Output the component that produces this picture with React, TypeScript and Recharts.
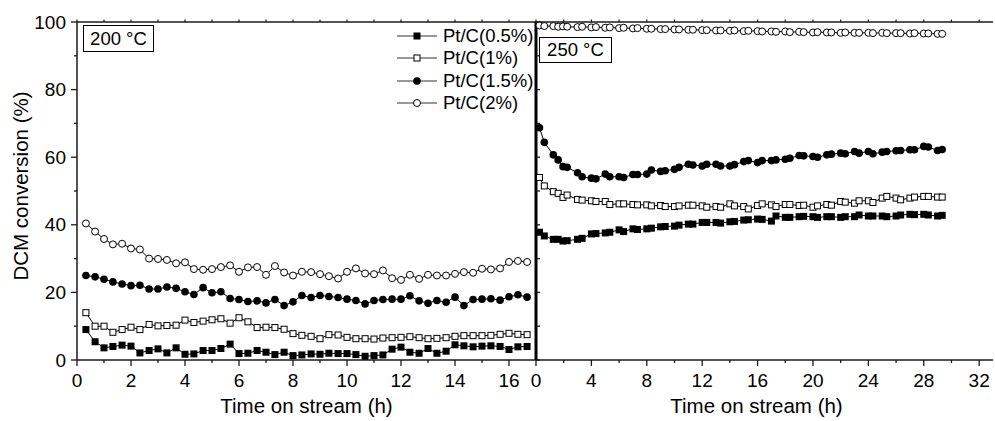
import React from 'react';
import { LineChart, Line, XAxis, YAxis } from 'recharts';

const FONT = '"Liberation Sans", Arial, Helvetica, sans-serif';
const AX = '#1a1a1a';
const TICK_FS = 19;
const TITLE_FS = 20.5;

// ---------- 200 °C panel ----------
const leftTimes = [0.33, 0.67, 1, 1.33, 1.67, 2, 2.33, 2.67, 3, 3.33, 3.67, 4, 4.33, 4.67, 5, 5.33, 5.67, 6, 6.33, 6.67, 7, 7.33, 7.67, 8, 8.33, 8.67, 9, 9.33, 9.67, 10, 10.33, 10.67, 11, 11.33, 11.67, 12, 12.33, 12.67, 13, 13.33, 13.67, 14, 14.33, 14.67, 15, 15.33, 15.67, 16, 16.33, 16.67];
const left05 = [9.0, 5.4, 3.6, 4.0, 4.4, 4.1, 2.1, 2.8, 3.3, 2.1, 3.6, 1.7, 1.8, 2.8, 2.8, 3.4, 4.7, 1.9, 2.0, 2.8, 2.3, 1.6, 2.3, 1.3, 1.5, 1.8, 1.7, 2.0, 1.9, 1.9, 1.6, 1.1, 1.3, 1.5, 3.2, 3.8, 2.3, 2.0, 3.4, 2.0, 2.6, 4.5, 4.2, 3.9, 4.1, 4.2, 4.0, 3.1, 3.9, 4.0];
const left1 = [14.0, 10.0, 10.0, 8.2, 9.0, 9.7, 9.0, 10.5, 10.1, 10.2, 10.3, 11.8, 11.1, 11.5, 11.9, 12.2, 10.9, 12.5, 11.3, 9.6, 9.7, 9.6, 9.1, 7.8, 7.3, 7.0, 6.3, 7.5, 7.4, 6.7, 6.3, 6.3, 6.2, 6.5, 6.6, 6.7, 6.9, 6.6, 6.3, 6.4, 6.6, 7.0, 7.2, 7.2, 7.2, 7.3, 7.6, 7.9, 7.6, 7.5];
const left15 = [25.0, 24.6, 23.9, 23.1, 22.5, 22.0, 22.1, 21.0, 21.0, 21.6, 21.2, 20.2, 19.4, 21.4, 19.9, 20.2, 18.2, 17.9, 17.3, 17.5, 16.9, 17.9, 16.1, 17.2, 19.1, 18.5, 19.1, 18.8, 18.5, 18.0, 17.6, 16.6, 17.6, 17.9, 18.0, 18.0, 19.0, 17.5, 16.8, 17.6, 17.1, 18.6, 16.1, 17.9, 18.0, 18.1, 17.7, 18.7, 19.3, 18.6];
const left2 = [40.4, 38.0, 35.8, 34.2, 34.4, 33.0, 32.7, 30.0, 29.9, 29.6, 28.6, 28.9, 26.9, 26.7, 26.9, 27.5, 28.0, 26.1, 27.4, 27.5, 25.2, 27.8, 25.9, 25.0, 26.1, 26.0, 25.4, 24.8, 24.1, 26.1, 27.1, 25.6, 25.4, 26.5, 24.2, 23.7, 25.2, 24.0, 25.2, 25.0, 25.0, 25.5, 26.0, 25.8, 27.0, 26.8, 27.1, 29.0, 29.3, 29.0];

// ---------- 250 °C panel ----------
const rightTimes = [0.25, 0.6, 1.25, 1.6, 1.95, 2.25, 3, 3.33, 4, 4.33, 5, 5.33, 6, 6.33, 7, 7.33, 8, 8.33, 9, 9.33, 10, 10.33, 11, 11.33, 12, 12.33, 13, 13.33, 14, 14.33, 15, 15.33, 16, 16.33, 17, 17.33, 18, 18.33, 19, 19.33, 20, 20.33, 21, 21.33, 22, 22.33, 23, 23.33, 24, 24.33, 25, 25.33, 26, 26.33, 27, 27.33, 28, 28.33, 29, 29.33];
const right05 = [37.8, 36.7, 35.7, 35.7, 35.2, 35.3, 35.7, 36.0, 37.3, 37.4, 37.6, 37.8, 38.5, 38.0, 38.8, 38.6, 38.8, 39.0, 39.4, 39.5, 39.6, 39.9, 40.2, 40.2, 40.7, 40.7, 40.7, 40.5, 40.9, 41.0, 41.4, 41.5, 41.7, 41.6, 41.1, 42.6, 42.2, 42.2, 42.4, 42.5, 42.4, 42.2, 42.4, 42.4, 42.2, 42.4, 42.4, 42.9, 42.6, 42.6, 42.6, 42.4, 42.6, 42.9, 43.1, 43.0, 43.1, 42.9, 42.6, 42.8];
const right1 = [54.0, 51.5, 49.8, 49.3, 48.1, 48.8, 47.5, 47.3, 47.1, 46.9, 46.9, 46.0, 46.2, 46.2, 46.0, 45.9, 45.9, 45.6, 45.7, 45.4, 45.4, 45.6, 45.8, 45.8, 45.6, 45.2, 45.4, 45.2, 46.2, 45.6, 45.4, 44.7, 45.7, 46.2, 45.9, 45.4, 46.0, 46.0, 45.7, 45.8, 45.2, 45.6, 46.0, 45.8, 46.9, 46.7, 46.4, 47.1, 47.1, 46.6, 47.9, 48.4, 47.9, 47.4, 47.9, 48.2, 48.4, 48.4, 48.2, 48.2];
const right15 = [68.7, 64.4, 60.7, 59.2, 57.2, 57.0, 55.4, 54.2, 53.8, 53.6, 55.0, 54.2, 54.2, 54.0, 54.9, 54.9, 55.0, 56.2, 55.8, 56.0, 56.4, 57.0, 57.9, 57.7, 57.4, 57.9, 57.9, 57.4, 57.4, 57.8, 58.7, 59.0, 58.4, 59.0, 59.0, 59.2, 59.4, 59.7, 60.5, 60.4, 60.2, 60.0, 60.7, 60.9, 61.2, 61.0, 61.7, 61.2, 61.7, 61.0, 61.5, 61.7, 61.9, 62.0, 62.2, 62.2, 63.2, 63.0, 62.0, 62.3];
const right2 = [99.0, 98.8, 98.8, 98.6, 98.7, 98.6, 98.5, 98.6, 98.4, 98.5, 98.3, 98.4, 98.2, 98.3, 98.1, 98.2, 98.0, 98.0, 97.9, 97.9, 97.8, 97.8, 97.7, 97.7, 97.6, 97.6, 97.5, 97.5, 97.4, 97.5, 97.3, 97.4, 97.3, 97.2, 97.2, 97.1, 97.2, 97.0, 97.1, 97.0, 96.9, 97.0, 96.9, 96.9, 96.8, 96.9, 96.8, 96.8, 96.8, 96.7, 96.8, 96.7, 96.7, 96.7, 96.6, 96.7, 96.6, 96.6, 96.5, 96.5];

// ---------- axes ----------
const yTicks = [0, 10, 20, 30, 40, 50, 60, 70, 80, 90, 100];
const leftXTicks = [0, 1, 2, 3, 4, 5, 6, 7, 8, 9, 10, 11, 12, 13, 14, 15, 16];
const rightXTicks = [0, 2, 4, 6, 8, 10, 12, 14, 16, 18, 20, 22, 24, 26, 28, 30, 32];
const seriesNames = ['Pt/C(0.5%)', 'Pt/C(1%)', 'Pt/C(1.5%)', 'Pt/C(2%)'];
const seriesKeys = ['a', 'b', 'c', 'd'];
const seriesShapes = ['fsq', 'osq', 'fci', 'oci'];

const leftData = leftTimes.map((t, i) => ({ t, a: left05[i], b: left1[i], c: left15[i], d: left2[i] }));
const rightData = rightTimes.map((t, i) => ({ t, a: right05[i], b: right1[i], c: right15[i], d: right2[i] }));

function Marker({ shape, cx, cy }: { shape: string; cx: number; cy: number }) {
  const s = 7;
  if (shape === 'fsq') return <rect x={cx - s / 2} y={cy - s / 2} width={s} height={s} fill="#000" />;
  if (shape === 'osq') return <rect x={cx - s / 2 + 0.5} y={cy - s / 2 + 0.5} width={s - 1} height={s - 1} fill="#fff" stroke="#000" strokeWidth={1} />;
  if (shape === 'fci') return <circle cx={cx} cy={cy} r={3.8} fill="#000" />;
  return <circle cx={cx} cy={cy} r={3.5} fill="#fff" stroke="#000" strokeWidth={1} />;
}

const renderDot = (shape: string) => (props: any) => {
  const { cx, cy, index } = props;
  if (cx == null || cy == null) return <g key={`n${index}`} />;
  return (
    <g key={`d${index}`}>
      <Marker shape={shape} cx={cx} cy={cy} />
    </g>
  );
};

const isMult = (v: number, m: number) => Math.abs(v / m - Math.round(v / m)) < 1e-6;

const makeBottomTick = (majorEvery: number) => (props: any) => {
  const { x, y, payload } = props;
  const v = payload.value;
  const major = isMult(v, majorEvery);
  return (
    <g>
      <line x1={x} y1={y} x2={x} y2={y + (major ? 6 : 3)} stroke={AX} strokeWidth={1.3} />
      {major && (
        <text x={x} y={y + 27} textAnchor="middle" fontSize={TICK_FS} fontFamily={FONT} fill="#000">
          {v}
        </text>
      )}
    </g>
  );
};

const TopTick = (props: any) => {
  const { x, y } = props;
  return <line x1={x} y1={y} x2={x} y2={y - 2.5} stroke={AX} strokeWidth={1.2} />;
};

const LeftYTick = (props: any) => {
  const { x, y, payload } = props;
  const v = payload.value;
  const major = isMult(v, 20);
  return (
    <g>
      <line x1={x - (major ? 6 : 3)} y1={y} x2={x} y2={y} stroke={AX} strokeWidth={1.3} />
      {major && (
        <text x={x - 11} y={y + 6.5} textAnchor="end" fontSize={TICK_FS} fontFamily={FONT} fill="#000">
          {v}
        </text>
      )}
    </g>
  );
};

const InnerYTick = (props: any) => {
  const { x, y } = props;
  return <line x1={x} y1={y} x2={x + 4} y2={y} stroke={AX} strokeWidth={1.3} />;
};

function renderLines() {
  return seriesKeys.map((k, i) => (
    <Line
      key={k}
      type="linear"
      dataKey={k}
      name={seriesNames[i]}
      stroke="#000"
      strokeWidth={1}
      dot={renderDot(seriesShapes[i])}
      activeDot={false}
      isAnimationActive={false}
    />
  ));
}

function LegendOverlay() {
  return (
    <div style={{ position: 'absolute', left: 397, top: 25, fontFamily: FONT, fontSize: 18.5 }}>
      {seriesNames.map((n, i) => (
        <div key={n} style={{ display: 'flex', alignItems: 'center', height: 22.3, lineHeight: '22.3px' }}>
          <svg width={40} height={22} style={{ display: 'block' }}>
            <line x1={0} y1={11} x2={40} y2={11} stroke="#333" strokeWidth={1.2} />
            <Marker shape={seriesShapes[i]} cx={20} cy={11} />
          </svg>
          <span style={{ marginLeft: 6, whiteSpace: 'nowrap', color: '#000' }}>{n}</span>
        </div>
      ))}
    </div>
  );
}

const boxStyle: React.CSSProperties = {
  position: 'absolute',
  boxSizing: 'border-box',
  border: '1px solid #000',
  background: '#fff',
  fontFamily: FONT,
  fontSize: 18.5,
  textAlign: 'center',
  color: '#000',
  whiteSpace: 'nowrap',
};

export default function App() {
  return (
    <div style={{ position: 'absolute', left: 0, top: 0, width: 995, height: 421, background: '#fff', overflow: 'hidden' }}>
      <div style={{ position: 'absolute', left: 0, top: 0 }}>
        <LineChart width={540} height={421} data={leftData} margin={{ top: 0, right: 4, bottom: 0, left: 0 }}>
          <XAxis
            dataKey="t"
            type="number"
            domain={[0, 17]}
            ticks={leftXTicks}
            interval={0}
            height={61}
            tickSize={0}
            tickMargin={0}
            tickLine={false}
            tick={makeBottomTick(2)}
            axisLine={{ stroke: AX, strokeWidth: 1.5 }}
            label={{ value: 'Time on stream (h)', position: 'insideBottom', offset: 8, fontSize: TITLE_FS, fontFamily: FONT, fill: '#000' }}
          />
          <XAxis
            xAxisId="top"
            orientation="top"
            dataKey="t"
            type="number"
            domain={[0, 17]}
            ticks={leftXTicks}
            interval={0}
            height={22}
            tickSize={0}
            tickMargin={0}
            tickLine={false}
            tick={TopTick}
            axisLine={{ stroke: AX, strokeWidth: 1.5 }}
          />
          <YAxis
            type="number"
            domain={[0, 100]}
            ticks={yTicks}
            interval={0}
            width={77}
            tickSize={0}
            tickMargin={0}
            tickLine={false}
            tick={LeftYTick}
            axisLine={{ stroke: AX, strokeWidth: 1.5 }}
            label={{ value: 'DCM conversion (%)', angle: -90, position: 'insideLeft', offset: 21, dy: -5, fontSize: TITLE_FS, fontFamily: FONT, fill: '#000', style: { textAnchor: 'middle' } }}
          />
          {renderLines()}
        </LineChart>
      </div>
      <div style={{ position: 'absolute', left: 496, top: 0 }}>
        <LineChart width={499} height={421} data={rightData} margin={{ top: 0, right: 2, bottom: 0, left: 0 }}>
          <XAxis
            dataKey="t"
            type="number"
            domain={[0, 33]}
            ticks={rightXTicks}
            interval={0}
            height={61}
            tickSize={0}
            tickMargin={0}
            tickLine={false}
            tick={makeBottomTick(4)}
            axisLine={{ stroke: AX, strokeWidth: 1.5 }}
            label={{ value: 'Time on stream (h)', position: 'insideBottom', offset: 8, dx: -8, fontSize: TITLE_FS, fontFamily: FONT, fill: '#000' }}
          />
          <XAxis
            xAxisId="top"
            orientation="top"
            dataKey="t"
            type="number"
            domain={[0, 33]}
            ticks={rightXTicks}
            interval={0}
            height={22}
            tickSize={0}
            tickMargin={0}
            tickLine={false}
            tick={TopTick}
            axisLine={{ stroke: AX, strokeWidth: 1.5 }}
          />
          <YAxis
            type="number"
            domain={[0, 100]}
            ticks={yTicks}
            interval={0}
            width={40}
            tickSize={0}
            tickMargin={0}
            tickLine={false}
            tick={InnerYTick}
            axisLine={{ stroke: '#000', strokeWidth: 3 }}
          />
          <YAxis
            yAxisId="r"
            orientation="right"
            type="number"
            domain={[0, 100]}
            width={0}
            tick={false}
            tickLine={false}
            axisLine={{ stroke: AX, strokeWidth: 1.5 }}
          />
          {renderLines()}
        </LineChart>
      </div>
      <LegendOverlay />
      <div style={{ ...boxStyle, left: 83, top: 25, width: 71, height: 27, lineHeight: '25px' }}>200 °C</div>
      <div style={{ ...boxStyle, left: 539, top: 37, width: 73, height: 26, lineHeight: '24px' }}>250 °C</div>
    </div>
  );
}
